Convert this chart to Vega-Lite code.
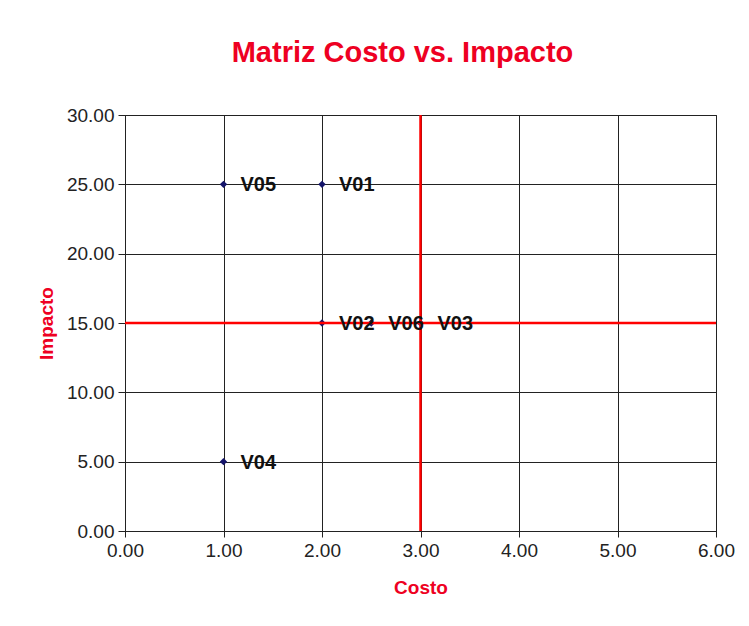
{
  "$schema": "https://vega.github.io/schema/vega-lite/v6.json",
  "width": 591,
  "height": 416,
  "autosize": {"type": "none"},
  "padding": {"left": 125, "top": 115, "right": 33, "bottom": 95},
  "background": "white",
  "title": {
    "text": "Matriz Costo vs. Impacto",
    "color": "#ee0022",
    "font": "Liberation Sans",
    "fontSize": 29,
    "fontWeight": "bold",
    "anchor": "middle",
    "dx": -18,
    "offset": 38
  },
  "config": {
    "view": {"stroke": "#222"},
    "axis": {
      "labelFont": "Liberation Sans",
      "labelFontSize": 19,
      "labelColor": "#222",
      "titleFont": "Liberation Sans",
      "titleFontSize": 19,
      "titleFontWeight": "bold",
      "titleColor": "#ee0022",
      "gridColor": "#222",
      "gridOpacity": 1,
      "gridWidth": 1,
      "domainColor": "#222",
      "tickColor": "#222",
      "labelFlush": false
    }
  },
  "data": {
    "values": [
      {"id": "V05", "costo": 1, "impacto": 25},
      {"id": "V01", "costo": 2, "impacto": 25},
      {"id": "V02", "costo": 2, "impacto": 15},
      {"id": "V06", "costo": 2.5, "impacto": 15},
      {"id": "V03", "costo": 3, "impacto": 15},
      {"id": "V04", "costo": 1, "impacto": 5}
    ]
  },
  "layer": [
    {
      "mark": {"type": "point", "shape": "diamond", "filled": true, "size": 55, "color": "#14146a", "opacity": 1},
      "encoding": {
        "x": {
          "field": "costo", "type": "quantitative",
          "scale": {"domain": [0, 6], "nice": false},
          "axis": {"title": "Costo", "values": [0, 1, 2, 3, 4, 5, 6], "format": ".2f", "tickSize": 6, "labelPadding": 4, "titlePadding": 18}
        },
        "y": {
          "field": "impacto", "type": "quantitative",
          "scale": {"domain": [0, 30], "nice": false},
          "axis": {"title": "Impacto", "values": [0, 5, 10, 15, 20, 25, 30], "format": ".2f", "tickSize": 7, "labelPadding": 4, "titlePadding": 10}
        }
      }
    },
    {
      "mark": {"type": "rule", "color": "#ff0000", "strokeWidth": 2.5},
      "data": {"values": [{"xv": 3}]},
      "encoding": {"x": {"field": "xv", "type": "quantitative"}}
    },
    {
      "mark": {"type": "rule", "color": "#ff0000", "strokeWidth": 2.5},
      "data": {"values": [{"yv": 15}]},
      "encoding": {"y": {"field": "yv", "type": "quantitative"}}
    },
    {
      "mark": {"type": "text", "align": "left", "baseline": "middle", "dx": 17, "dy": 1, "font": "Liberation Sans", "fontSize": 20, "fontWeight": "bold", "color": "#111"},
      "encoding": {
        "x": {"field": "costo", "type": "quantitative"},
        "y": {"field": "impacto", "type": "quantitative"},
        "text": {"field": "id"}
      }
    }
  ]
}
